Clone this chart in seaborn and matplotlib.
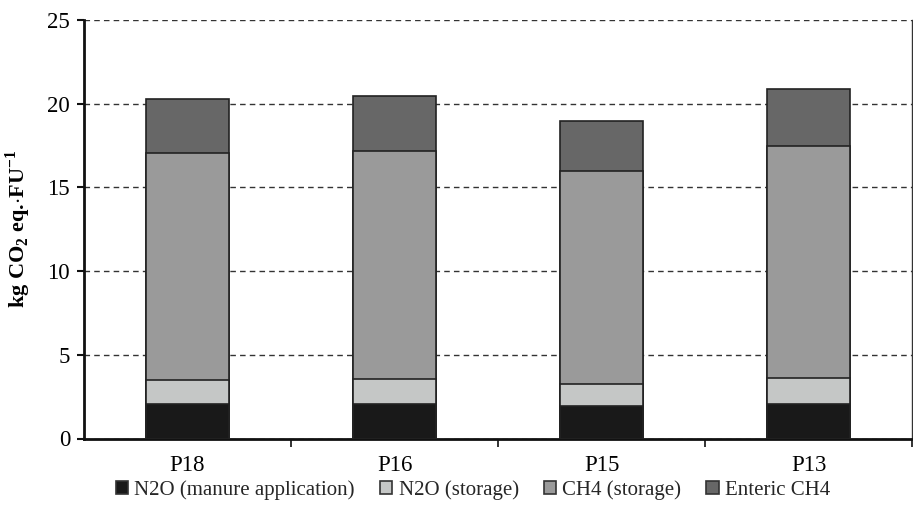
import numpy as np
import pandas as pd
import seaborn as sns
import matplotlib.pyplot as plt
from matplotlib.patches import Patch

sns.set_theme(style="white")
plt.rcParams['font.family'] = ['Liberation Serif', 'DejaVu Serif']
plt.rcParams['mathtext.fontset'] = 'custom'
plt.rcParams['mathtext.rm'] = 'Liberation Serif'
plt.rcParams['mathtext.bf'] = 'Liberation Serif:bold'

# values (kg CO2 eq. per FU)
farms = ['P18', 'P16', 'P15', 'P13']
n2o_manure = [2.07, 2.07, 1.97, 2.07]
n2o_storage = [1.45, 1.47, 1.31, 1.55]
ch4_storage = [13.53, 13.63, 12.72, 13.85]
enteric_ch4 = [3.22, 3.30, 2.97, 3.43]

labels = ['N2O (manure application)', 'N2O (storage)', 'CH4 (storage)', 'Enteric CH4']
colors = ['#191919', '#c5c7c6', '#9a9a9a', '#676767']

df = pd.DataFrame({'farm': farms,
                   labels[0]: n2o_manure,
                   labels[1]: n2o_storage,
                   labels[2]: ch4_storage,
                   labels[3]: enteric_ch4})
cum = df[labels].cumsum(axis=1)

fig = plt.figure(figsize=(9.13, 5.13), dpi=100)
ax = fig.add_axes([84/913, 1-438.5/513, 828/913, 418.5/513])

# draw cumulative totals, tallest first, so each layer covers the one below
for lab, col in reversed(list(zip(labels, colors))):
    sns.barplot(x=df['farm'], y=cum[lab], color=col, width=0.40,
                edgecolor='#222222', linewidth=1.2, saturation=1, ax=ax, zorder=3)

ax.set_ylim(0, 25)
ax.set_xlim(-0.5, 3.5)
ax.set_yticks(np.arange(0, 26, 5))
ax.yaxis.grid(True, linestyle=(0, (4, 3)), color='#333333', linewidth=1.0)
ax.set_axisbelow(True)

for s in ['left', 'bottom']:
    ax.spines[s].set_color('#111111')
    ax.spines[s].set_linewidth(2.0)
ax.spines['right'].set_color('#333333')
ax.spines['right'].set_linewidth(1.0)
ax.spines['top'].set_visible(False)

ax.tick_params(axis='y', which='major', direction='out', length=5, width=1.5,
               color='#111111', pad=5, labelsize=16.5, left=True)
ax.tick_params(axis='x', which='major', length=0, pad=12, labelsize=16.5)
ax.set_xticks([0.5, 1.5, 2.5, 3.5], minor=True)
ax.tick_params(axis='x', which='minor', direction='out', length=6, width=1.2,
               color='#111111', bottom=True)
for t in ax.get_xticklabels() + ax.get_yticklabels():
    t.set_color('black')

ax.set_xlabel('')
ax.set_ylabel(r'kg CO$_\mathbf{2}$ eq.$\cdot$FU$^\mathbf{-1}$', fontsize=16,
              fontweight='bold', color='black')
ax.yaxis.set_label_coords(-0.061, 0.5)

handles = [Patch(facecolor=c, edgecolor='#333333', linewidth=1.2) for c in colors]
fig.legend(handles, labels, loc='center', bbox_to_anchor=(473/913, 1-490/513),
           ncol=4, frameon=False, fontsize=15, handlelength=0.6, handleheight=0.6,
           handletextpad=0.3, columnspacing=1.2)

fig.savefig('out.png', dpi=100)
